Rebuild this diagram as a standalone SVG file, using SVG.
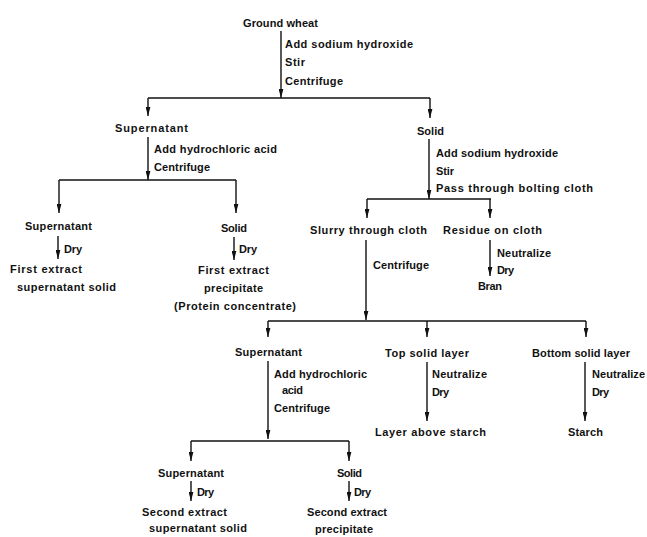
<svg xmlns="http://www.w3.org/2000/svg" width="647" height="537" viewBox="0 0 647 537">
<defs>
<style>
text{font-family:"Liberation Sans",Arial,sans-serif;font-weight:bold;font-size:11px;fill:#111;}
.c line,.c path{stroke:#111;stroke-width:1.4;fill:none;}
</style>
<marker id="ah" viewBox="0 -2.5 9 5" refX="9" refY="0" markerWidth="9" markerHeight="5" markerUnits="userSpaceOnUse" orient="auto">
<path d="M0,-2.4 L9,0 L0,2.4 z" fill="#111"/>
</marker>
</defs>
<rect width="647" height="537" fill="#fff"/>

<g id="connectors" class="c">
<!-- Ground wheat -->
<line x1="281" y1="31" x2="281" y2="98" marker-end="url(#ah)"/>
<line x1="148" y1="98" x2="430" y2="98"/>
<line x1="148" y1="98" x2="148" y2="116" marker-end="url(#ah)"/>
<line x1="430" y1="98" x2="430" y2="118" marker-end="url(#ah)"/>
<!-- Supernatant A -->
<line x1="148" y1="137" x2="148" y2="180" marker-end="url(#ah)"/>
<line x1="59" y1="180" x2="236" y2="180"/>
<line x1="59" y1="180" x2="59" y2="213" marker-end="url(#ah)"/>
<line x1="236" y1="180" x2="236" y2="213" marker-end="url(#ah)"/>
<line x1="58" y1="236" x2="58" y2="259" marker-end="url(#ah)"/>
<line x1="234" y1="237" x2="234" y2="260" marker-end="url(#ah)"/>
<!-- Solid top -->
<line x1="429" y1="139" x2="429" y2="199" marker-end="url(#ah)"/>
<line x1="367" y1="199" x2="491" y2="199"/>
<line x1="367" y1="199" x2="367" y2="218" marker-end="url(#ah)"/>
<line x1="490" y1="199" x2="490" y2="218" marker-end="url(#ah)"/>
<line x1="490" y1="240" x2="490" y2="276" marker-end="url(#ah)"/>
<!-- Slurry -->
<line x1="366" y1="240" x2="366" y2="320" marker-end="url(#ah)"/>
<line x1="268" y1="321" x2="586" y2="321"/>
<line x1="268" y1="321" x2="268" y2="337" marker-end="url(#ah)"/>
<line x1="427" y1="321" x2="427" y2="337" marker-end="url(#ah)"/>
<line x1="586" y1="321" x2="586" y2="337" marker-end="url(#ah)"/>
<!-- Supernatant D -->
<line x1="268" y1="361" x2="268" y2="439" marker-end="url(#ah)"/>
<line x1="191" y1="441" x2="349" y2="441"/>
<line x1="191" y1="441" x2="191" y2="461" marker-end="url(#ah)"/>
<line x1="349" y1="441" x2="349" y2="461" marker-end="url(#ah)"/>
<line x1="191" y1="481" x2="191" y2="501" marker-end="url(#ah)"/>
<line x1="349" y1="481" x2="349" y2="501" marker-end="url(#ah)"/>
<!-- Top / Bottom solid layer -->
<line x1="427" y1="362" x2="427" y2="421" marker-end="url(#ah)"/>
<line x1="585" y1="362" x2="585" y2="421" marker-end="url(#ah)"/>
</g>

<g id="ground-wheat">
<text x="243" y="27" textLength="75" lengthAdjust="spacing">Ground wheat</text>
</g>
<g id="step1">
<text x="285" y="48" textLength="128" lengthAdjust="spacing">Add sodium hydroxide</text>
<text x="285" y="66" textLength="20" lengthAdjust="spacing">Stir</text>
<text x="285" y="85" textLength="58" lengthAdjust="spacing">Centrifuge</text>
</g>
<g id="supernatant1">
<text x="115" y="132" textLength="73" lengthAdjust="spacing">Supernatant</text>
</g>
<g id="step2">
<text x="154" y="153" textLength="123" lengthAdjust="spacing">Add hydrochloric acid</text>
<text x="154" y="171" textLength="56" lengthAdjust="spacing">Centrifuge</text>
</g>
<g id="solid1">
<text x="417" y="135" textLength="27" lengthAdjust="spacing">Solid</text>
</g>
<g id="step3">
<text x="436" y="157" textLength="122" lengthAdjust="spacing">Add sodium hydroxide</text>
<text x="436" y="175" textLength="18" lengthAdjust="spacing">Stir</text>
<text x="436" y="192" textLength="157" lengthAdjust="spacing">Pass through bolting cloth</text>
</g>
<g id="supernatant2">
<text x="25" y="230" textLength="67" lengthAdjust="spacing">Supernatant</text>
<text x="64" y="253" textLength="18" lengthAdjust="spacing">Dry</text>
</g>
<g id="first-extract-supernatant">
<text x="10" y="273" textLength="72" lengthAdjust="spacing">First extract</text>
<text x="17" y="291" textLength="99" lengthAdjust="spacing">supernatant solid</text>
</g>
<g id="solid2">
<text x="221" y="232" textLength="26" lengthAdjust="spacing">Solid</text>
<text x="239" y="253" textLength="18" lengthAdjust="spacing">Dry</text>
</g>
<g id="first-extract-precipitate">
<text x="198" y="274" textLength="71" lengthAdjust="spacing">First extract</text>
<text x="204" y="292" textLength="59" lengthAdjust="spacing">precipitate</text>
<text x="174" y="310" textLength="122" lengthAdjust="spacing">(Protein concentrate)</text>
</g>
<g id="slurry">
<text x="310" y="234" textLength="117" lengthAdjust="spacing">Slurry through cloth</text>
<text x="373" y="269" textLength="56" lengthAdjust="spacing">Centrifuge</text>
</g>
<g id="residue">
<text x="443" y="234" textLength="99" lengthAdjust="spacing">Residue on cloth</text>
<text x="497" y="257" textLength="54" lengthAdjust="spacing">Neutralize</text>
<text x="497" y="274" textLength="17" lengthAdjust="spacing">Dry</text>
</g>
<g id="bran">
<text x="478" y="290" textLength="24" lengthAdjust="spacing">Bran</text>
</g>
<g id="supernatant3">
<text x="235" y="356" textLength="67" lengthAdjust="spacing">Supernatant</text>
<text x="274" y="378" textLength="93" lengthAdjust="spacing">Add hydrochloric</text>
<text x="282" y="394" textLength="21" lengthAdjust="spacing">acid</text>
<text x="274" y="412" textLength="56" lengthAdjust="spacing">Centrifuge</text>
</g>
<g id="top-solid-layer">
<text x="385" y="357" textLength="84" lengthAdjust="spacing">Top solid layer</text>
<text x="432" y="378" textLength="55" lengthAdjust="spacing">Neutralize</text>
<text x="432" y="396" textLength="17" lengthAdjust="spacing">Dry</text>
</g>
<g id="layer-above-starch">
<text x="375" y="436" textLength="111" lengthAdjust="spacing">Layer above starch</text>
</g>
<g id="bottom-solid-layer">
<text x="532" y="357" textLength="98" lengthAdjust="spacing">Bottom solid layer</text>
<text x="592" y="378" textLength="53" lengthAdjust="spacing">Neutralize</text>
<text x="592" y="396" textLength="17" lengthAdjust="spacing">Dry</text>
</g>
<g id="starch">
<text x="568" y="436" textLength="35" lengthAdjust="spacing">Starch</text>
</g>
<g id="supernatant4">
<text x="158" y="477" textLength="66" lengthAdjust="spacing">Supernatant</text>
<text x="197" y="496" textLength="17" lengthAdjust="spacing">Dry</text>
</g>
<g id="second-extract-supernatant">
<text x="142" y="516" textLength="85" lengthAdjust="spacing">Second extract</text>
<text x="149" y="532" textLength="98" lengthAdjust="spacing">supernatant solid</text>
</g>
<g id="solid3">
<text x="337" y="477" textLength="25" lengthAdjust="spacing">Solid</text>
<text x="354" y="496" textLength="17" lengthAdjust="spacing">Dry</text>
</g>
<g id="second-extract-precipitate">
<text x="307" y="516" textLength="80" lengthAdjust="spacing">Second extract</text>
<text x="315" y="533" textLength="58" lengthAdjust="spacing">precipitate</text>
</g>
</svg>
